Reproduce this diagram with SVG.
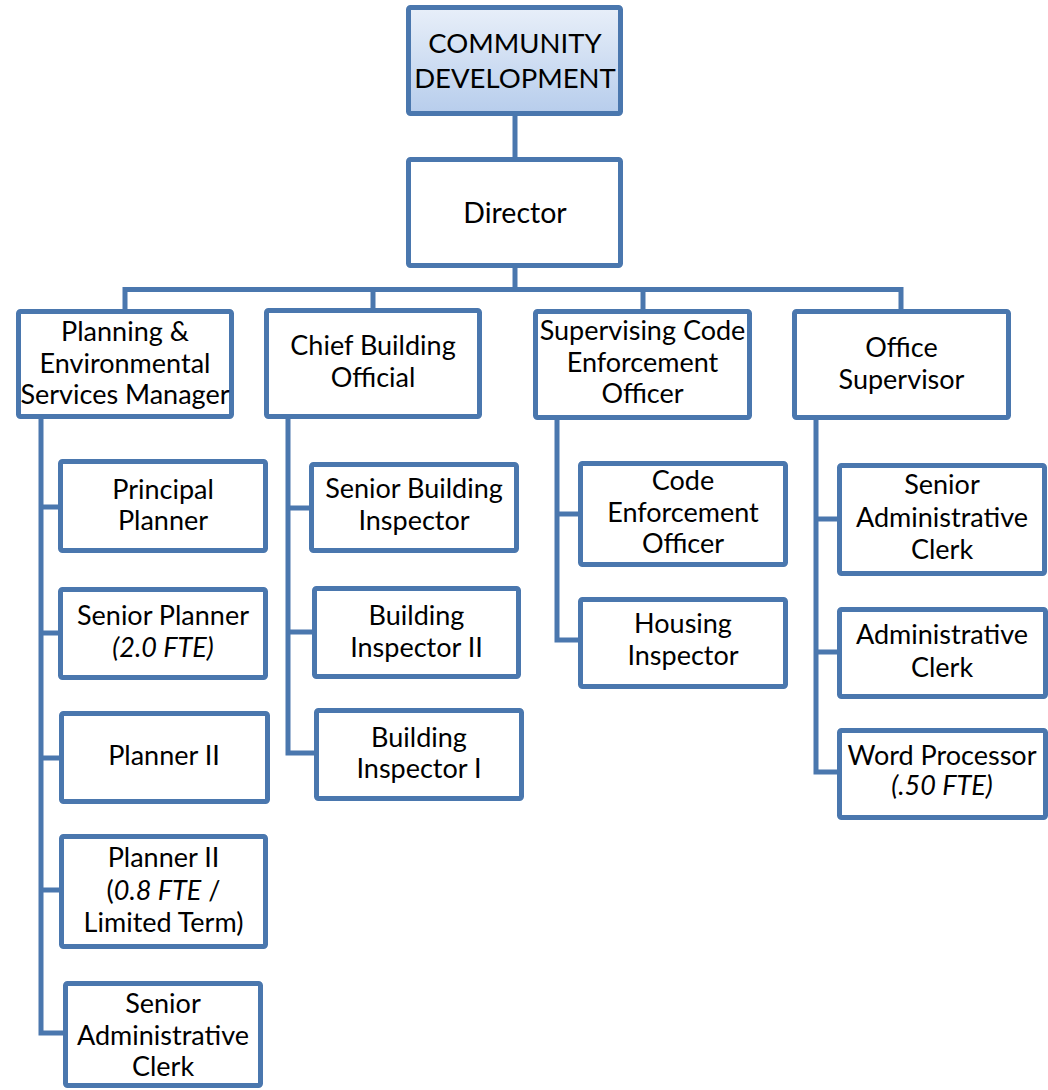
<svg xmlns="http://www.w3.org/2000/svg" width="1048" height="1090" viewBox="0 0 1048 1090">
<defs>
<linearGradient id="topfill" x1="0" y1="0" x2="0" y2="1">
<stop offset="0" stop-color="#e8eff9"/>
<stop offset="1" stop-color="#b7cdec"/>
</linearGradient>
</defs>
<style>
.box{fill:#ffffff;stroke:#4a77ae;stroke-width:5}
.top{fill:url(#topfill);stroke:#4a77ae;stroke-width:5}
.ln{fill:none;stroke:#4a77ae;stroke-width:5;stroke-linejoin:miter}
text{font-family:Lato,"Open Sans","Liberation Sans",sans-serif;font-size:27px;fill:#000;text-anchor:middle}
.big{font-size:27.5px}
.dir{font-size:28.5px}
.it{font-style:italic}
</style>
<rect width="1048" height="1090" fill="#ffffff"/>
<g id="connectors">
<path class="ln" d="M515 116 V157"/>
<path class="ln" d="M515 268 V289.5"/>
<path class="ln" d="M125 309 V289.5 H901 V309"/>
<path class="ln" d="M373 289.5 V309"/>
<path class="ln" d="M643 289.5 V309"/>
<path class="ln" d="M41 419 V1033 H63"/>
<path class="ln" d="M41 507 H58 M41 633 H58 M41 758 H59 M41 890 H59"/>
<path class="ln" d="M288 419 V753 H314"/>
<path class="ln" d="M288 508 H309 M288 632 H312"/>
<path class="ln" d="M557 420 V640 H578"/>
<path class="ln" d="M557 514 H578"/>
<path class="ln" d="M816 420 V772 H837"/>
<path class="ln" d="M816 519 H837 M816 652 H837"/>
</g>
<g id="community-development">
<rect class="top" x="408.5" y="7.5" width="212" height="106" rx="2"/>
<text class="big" x="515" y="53">COMMUNITY</text>
<text class="big" x="515" y="88">DEVELOPMENT</text>
</g>
<g id="director">
<rect class="box" x="408.5" y="159.5" width="212" height="106" rx="2"/>
<text class="dir" x="515" y="223">Director</text>
</g>
<g id="planning-manager">
<rect class="box" x="18.5" y="311.5" width="213" height="105" rx="2"/>
<text x="125" y="341">Planning &amp;</text>
<text x="125" y="373">Environmental</text>
<text x="125" y="404">Services Manager</text>
</g>
<g id="chief-building-official">
<rect class="box" x="266.5" y="310.5" width="213" height="106" rx="2"/>
<text x="373" y="355">Chief Building</text>
<text x="373" y="387">Official</text>
</g>
<g id="supervising-code-enforcement">
<rect class="box" x="535.5" y="311.5" width="214" height="106" rx="2"/>
<text x="642.5" y="340">Supervising Code</text>
<text x="642.5" y="372">Enforcement</text>
<text x="642.5" y="403">Officer</text>
</g>
<g id="office-supervisor">
<rect class="box" x="794.5" y="311.5" width="214" height="106" rx="2"/>
<text x="901.5" y="357">Office</text>
<text x="901.5" y="389">Supervisor</text>
</g>
<g id="principal-planner">
<rect class="box" x="60.5" y="461.5" width="205" height="89" rx="2"/>
<text x="163" y="499">Principal</text>
<text x="163" y="530">Planner</text>
</g>
<g id="senior-planner">
<rect class="box" x="60.5" y="589.5" width="205" height="88" rx="2"/>
<text x="163" y="625">Senior Planner</text>
<text class="it" x="163" y="657">(2.0 FTE)</text>
</g>
<g id="planner-ii">
<rect class="box" x="61.5" y="713.5" width="206" height="88" rx="2"/>
<text x="164" y="765">Planner II</text>
</g>
<g id="planner-ii-limited">
<rect class="box" x="61.5" y="836.5" width="204" height="110" rx="2"/>
<text x="163.5" y="867">Planner II</text>
<text x="163.5" y="900">(<tspan class="it">0.8 FTE</tspan> /</text>
<text x="163.5" y="932">Limited Term)</text>
</g>
<g id="senior-admin-clerk-planning">
<rect class="box" x="65.5" y="983.5" width="195" height="102" rx="2"/>
<text x="163" y="1013">Senior</text>
<text x="163" y="1045">Administrative</text>
<text x="163" y="1076">Clerk</text>
</g>
<g id="senior-building-inspector">
<rect class="box" x="311.5" y="464.5" width="205" height="86" rx="2"/>
<text x="414" y="498">Senior Building</text>
<text x="414" y="530">Inspector</text>
</g>
<g id="building-inspector-ii">
<rect class="box" x="314.5" y="588.5" width="204" height="88" rx="2"/>
<text x="416.5" y="625">Building</text>
<text x="416.5" y="657">Inspector II</text>
</g>
<g id="building-inspector-i">
<rect class="box" x="316.5" y="710.5" width="205" height="88" rx="2"/>
<text x="419" y="747">Building</text>
<text x="419" y="778">Inspector I</text>
</g>
<g id="code-enforcement-officer">
<rect class="box" x="580.5" y="463.5" width="205" height="101" rx="2"/>
<text x="683" y="490">Code</text>
<text x="683" y="522">Enforcement</text>
<text x="683" y="553">Officer</text>
</g>
<g id="housing-inspector">
<rect class="box" x="580.5" y="599.5" width="205" height="87" rx="2"/>
<text x="683" y="633">Housing</text>
<text x="683" y="665">Inspector</text>
</g>
<g id="senior-admin-clerk-office">
<rect class="box" x="839.5" y="465.5" width="205" height="108" rx="2"/>
<text x="942" y="494">Senior</text>
<text x="942" y="527">Administrative</text>
<text x="942" y="559">Clerk</text>
</g>
<g id="administrative-clerk">
<rect class="box" x="839.5" y="609.5" width="206" height="87" rx="2"/>
<text x="942" y="644">Administrative</text>
<text x="942" y="677">Clerk</text>
</g>
<g id="word-processor">
<rect class="box" x="839.5" y="730.5" width="206" height="87" rx="2"/>
<text x="942" y="765">Word Processor</text>
<text class="it" x="942" y="795">(.50 FTE)</text>
</g>
</svg>
